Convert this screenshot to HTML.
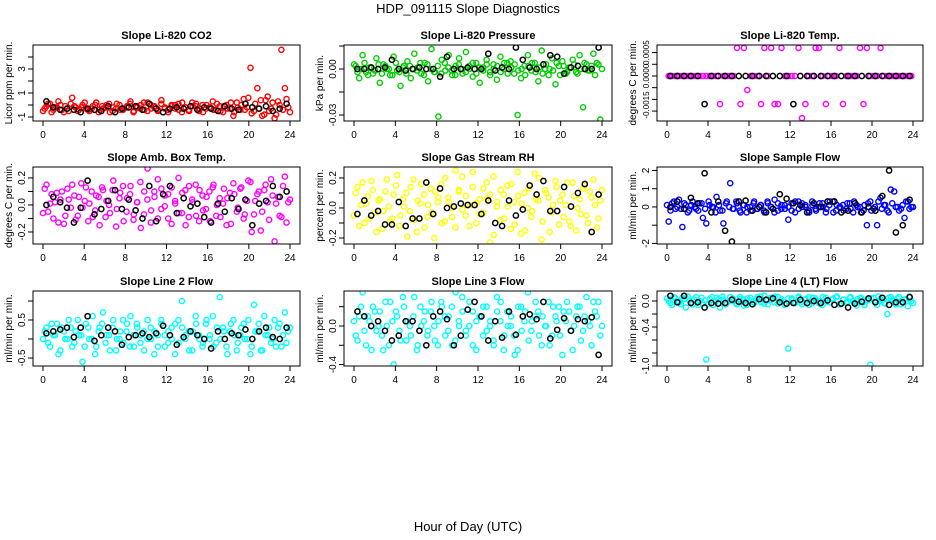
<!DOCTYPE html>
<html><head><meta charset="utf-8"><style>
html,body{margin:0;padding:0;background:#fff;}
svg{display:block;font-family:"Liberation Sans",sans-serif;}
</style></head><body>
<svg id="c" width="936" height="540" viewBox="0 0 936 540">
<text x="468" y="13" text-anchor="middle" font-size="13">HDP_091115  Slope Diagnostics</text>
<text x="468" y="531" text-anchor="middle" font-size="13">Hour of Day (UTC)</text>
</svg>
<script>
const xTicks = [0,4,8,12,16,20,24];
const titles = ["Slope Li-820 CO2","Slope Li-820 Pressure","Slope Li-820 Temp.","Slope Amb. Box Temp.","Slope Gas Stream RH","Slope Sample Flow","Slope Line 2 Flow","Slope Line 3 Flow","Slope Line 4 (LT) Flow"];
const yLabels = ["Licor ppm per min.","kPa per min.","degrees C per min.","degrees C per min.","percent per min.","ml/min per min.","ml/min per min.","ml/min per min.","ml/min per min."];
const colors = ["#ff0000","#00cd00","#ff00ff","#ff00ff","#ffff00","#0000ff","#00ffff","#00ffff","#00ffff"];
const yDomains = [[-1.333,5.0],[-0.0339,0.01565],[-0.000962,0.000662],[-0.289,0.281],[-0.24,0.273],[-2.03,2.19],[-0.71,1.263],[-0.415,0.363],[-1.0,0.154]];
const yTicks = [[-1,0,1,2,3,4],[-0.03,-0.015,0,0.015],[-0.00075,-0.0005,-0.00025,0,0.00025,0.0005],[-0.2,-0.1,0,0.1,0.2],[-0.2,-0.1,0,0.1,0.2],[-2,-1,0,1,2],[-0.5,0,0.5,1.0],[-0.4,-0.2,0,0.2],[-1.0,-0.8,-0.6,-0.4,-0.2,0]];
const yTickLabelVals = [[-1,1,3],[-0.03,0],[-0.00062,0,0.0005],[-0.2,0,0.2],[-0.2,0,0.2],[-2,0,1,2],[-0.5,0.5],[-0.4,0],[-1.0,-0.4,0]];
const yTickLabelText = [["-1","1","3"],["-0.03","0.00"],["-0.0015","0.0000","0.0005"],["-0.2","0.0","0.2"],["-0.2","0.0","0.2"],["-2","0","1","2"],["-0.5","0.5"],["-0.4","0.0"],["-1.0","-0.4","0.0"]];

const colA = [-0.3,0.1,-0.6,-0.2,0.3,-0.4,-0.1,-0.5,0.6,-0.2,-0.4,0.0,-0.3,-0.5,-0.1,0.2,-0.4,-0.3,0.0,-0.6,-0.2,0.1,-0.4,-0.3,-0.1,0.3,-0.5,-0.2,0.0,-0.4,0.2,-0.3,-0.1,-0.5,0.4,-0.2,-0.4,0.0,-0.3,0.1,-0.6,-0.2,-0.4,0.2,-0.1,-0.5,0.0,-0.3,-0.2,0.3,-0.4,-0.1,-0.6,0.0,-0.3,-0.9,0.2,-0.4,0.5,-0.2,3.1,-0.5,1.4,0.4,-0.8,0.7,-0.3,-1.1,0.3,4.6,1.4,-0.2];
const colA2 = [-0.5,-0.1,0.1,-0.4,-0.2,0.0,-0.6,-0.3,0.1,-0.1,-0.5,-0.2,0.2,-0.4,-0.3,0.0,-0.6,-0.1,-0.2,0.1,-0.5,-0.3,0.0,-0.4,-0.2,0.1,-0.6,-0.1,-0.3,0.2,-0.5,0.0,-0.2,-0.4,0.1,-0.3,-0.6,-0.1,0.0,-0.4,0.2,-0.2,-0.5,-0.1,0.1,-0.3,-0.6,0.0,-0.2,-0.4,0.1,-0.5,-0.1,-0.3,0.2,-0.6,-0.2,0.0,-0.4,0.6,-0.7,0.1,-0.3,-0.9,0.4,-0.5,0.2,-0.8,0.0,-0.4,0.5,-0.6];
const blkA = [0.3,-0.2,-0.4,-0.3,-0.4,-0.6,-0.3,-0.4,-0.5,-0.1,-0.6,-0.3,-0.2,-0.1,-0.4,0.1,-0.3,-0.6,-0.3,-0.2,-0.3,-0.1,-0.4,-0.2,-0.3,-0.5,-0.1,-0.3,-0.4,0.1,-0.2,-0.3,-0.1,-0.5,-0.3,0.1];
const colB = [0.002,-0.006,0.009,-0.002,0.001,-0.003,0.007,-0.009,0.003,0.000,-0.004,0.008,-0.001,-0.011,0.002,0.005,-0.006,0.010,0.001,-0.003,0.004,-0.008,0.013,-0.002,-0.031,0.006,-0.001,0.009,-0.004,0.002,0.007,-0.003,0.011,0.000,-0.005,0.004,-0.009,0.001,0.006,-0.002,0.003,-0.007,0.008,0.000,0.004,0.005,-0.003,-0.030,-0.006,0.002,0.009,-0.001,0.004,-0.008,0.012,0.000,-0.004,0.007,-0.010,0.002,0.005,-0.003,0.001,0.006,-0.002,0.009,-0.025,0.003,-0.001,0.010,0.004,-0.033];
const colB2 = [0.003,-0.002,0.000,0.004,-0.004,0.001,-0.001,0.003,-0.003,0.002,0.000,-0.004,0.004,-0.002,0.001,-0.003,0.002,0.000,-0.001,0.004,-0.004,0.003,0.000,-0.002,0.002,-0.003,0.004,0.001,-0.001,-0.004,0.003,0.000,-0.002,0.002,0.004,-0.003,0.001,-0.001,0.003,-0.004,0.000,0.002,-0.002,0.004,-0.003,0.001,0.003,-0.001,0.000,-0.004,0.002,0.004,-0.002,0.001,-0.003,0.003,0.000,-0.001,0.004,-0.004,0.002,-0.002,0.001,0.003,-0.003,0.000,0.004,-0.001,0.002,-0.004,0.003,0.000];
const blkB = [0.000,0.000,0.001,0.000,0.001,0.006,0.000,-0.001,0.000,0.001,0.000,0.000,-0.005,0.008,0.000,0.000,0.001,0.000,0.000,0.010,-0.001,0.001,0.000,0.014,0.006,0.001,0.000,0.003,0.009,0.008,-0.003,0.001,0.002,0.000,0.000,0.014];
const colC = [0,0,0,0,0,0,0,0,0,0,0,0,0,0,0,-0.0006,0,0,0,0,0.0006,-0.0006,0.0006,-0.0003,0,0,0,-0.0006,0.0006,0,0.0006,-0.0006,-0.0006,0.0006,0,0,0,0,0.0006,-0.0009,-0.0006,0,0,0.0006,0.0006,0,-0.0006,0,0,0,0.0006,-0.0006,0,0,0,0,0.0006,-0.0006,0.0006,0,0,0,0.0006,0,0,0,0,0,0,0,0,0];
const colC2 = [];
const blkC = [0,0,0,0,0,-0.0006,0,0,0,0,0,0,0,0,0,0,0,0,-0.0006,0,0,0,0,0,0,0,0,0,0,0,0,0,0,0,0,0];
const colD = [0.12,-0.05,0.08,0.02,-0.13,0.10,-0.08,0.04,0.15,-0.11,0.06,-0.02,0.13,0.01,-0.09,0.07,-0.15,0.11,0.03,-0.06,0.18,-0.03,0.09,-0.12,0.05,0.14,-0.07,0.02,-0.17,0.10,0.27,-0.04,0.06,-0.10,0.12,-0.01,0.08,-0.14,0.03,0.20,-0.06,0.11,-0.09,0.04,0.15,-0.12,0.07,-0.03,0.10,0.13,-0.08,0.05,0.01,-0.15,0.09,0.16,-0.05,0.12,-0.10,0.03,0.17,-0.07,0.08,-0.19,0.11,0.02,0.19,-0.27,0.06,-0.09,0.21,0.02];
const colD2 = [-0.06,0.15,0.01,-0.10,0.09,0.04,-0.14,0.12,-0.02,0.07,-0.08,0.16,0.03,-0.12,0.10,-0.04,0.06,0.13,-0.09,0.00,0.11,-0.16,0.05,0.14,-0.05,0.08,-0.11,0.02,0.17,-0.07,0.04,-0.13,0.10,0.19,-0.03,0.07,-0.10,0.13,0.01,-0.06,0.09,-0.15,0.14,0.02,-0.08,0.11,-0.04,0.06,-0.12,0.15,0.00,-0.09,0.12,0.05,-0.14,0.08,-0.02,0.13,-0.07,0.18,-0.20,0.03,0.10,-0.05,0.15,-0.11,0.07,0.01,-0.08,0.14,-0.13,0.04];
const blkD = [0.00,0.06,0.02,-0.02,-0.13,-0.02,0.18,-0.07,-0.03,0.03,0.11,-0.03,0.04,-0.04,-0.10,0.14,-0.12,0.08,0.14,-0.06,0.05,-0.01,0.01,-0.09,-0.13,0.01,-0.05,0.05,-0.03,0.04,-0.15,0.01,0.03,0.14,0.06,0.10];
const colE = [0.10,-0.12,0.17,0.03,-0.07,0.12,-0.16,0.06,-0.02,0.19,-0.09,0.09,0.22,-0.05,0.01,-0.19,0.14,-0.08,0.05,0.16,-0.13,0.02,-0.03,0.11,0.07,-0.10,0.20,0.04,-0.06,0.25,0.12,-0.01,0.08,-0.12,0.24,0.03,-0.04,0.13,0.06,-0.23,0.21,0.01,-0.08,0.09,0.15,-0.14,0.04,0.24,-0.17,0.10,0.00,-0.06,0.23,0.05,-0.21,0.12,0.07,-0.03,0.18,-0.11,0.09,0.02,-0.09,0.17,-0.15,0.06,0.13,-0.05,0.11,0.19,-0.13,0.05];
const colE2 = [-0.05,0.14,0.02,-0.10,0.08,0.18,-0.03,0.05,-0.14,0.11,0.01,-0.07,0.15,-0.12,0.06,0.10,-0.02,0.19,-0.16,0.03,0.09,-0.06,0.13,-0.20,0.04,0.16,-0.09,0.07,0.00,-0.13,0.11,0.21,-0.05,0.02,0.14,-0.10,0.06,-0.03,0.17,0.09,-0.18,0.04,0.12,-0.07,0.01,0.16,-0.11,0.08,0.03,-0.15,0.13,-0.02,0.06,0.20,-0.09,0.10,-0.16,0.02,0.14,0.05,-0.06,0.17,-0.12,0.08,0.00,-0.04,0.15,-0.10,0.07,0.02,-0.07,0.12];
const blkE = [-0.04,0.05,-0.05,-0.02,-0.11,-0.11,0.04,-0.12,-0.07,-0.07,0.17,-0.04,0.13,0.00,0.01,0.03,0.02,0.02,-0.04,0.05,-0.10,-0.12,0.05,-0.05,-0.01,0.15,0.09,0.18,-0.02,-0.02,0.14,0.01,0.10,0.16,-0.16,0.09];
const colF = [-0.8,0.2,-0.1,0.4,-1.1,0.1,-0.2,0.3,-0.1,0.2,-0.6,-0.9,0.1,0.0,0.55,-0.2,-0.9,0.3,1.3,-0.1,0.2,-0.3,0.1,0.0,-0.2,0.3,-0.1,0.1,-0.3,0.2,0.0,0.4,-0.2,0.1,-0.1,-0.7,0.2,-0.3,0.3,0.0,0.1,-0.2,0.3,-0.1,0.0,0.2,-0.3,0.1,0.3,-0.2,0.0,0.1,-0.1,0.2,-0.3,0.1,0.0,-0.2,-1.0,0.3,-0.1,-1.0,0.5,0.1,-0.2,0.95,0.85,0.0,-0.1,-0.6,0.3,0.0];
const colF2 = [0.1,-0.2,0.3,0.0,-0.1,0.2,-0.3,0.1,0.0,-0.2,0.2,-0.1,0.3,0.0,-0.3,0.1,-0.2,0.2,0.0,-0.1,0.3,-0.2,0.1,-0.3,0.0,0.2,-0.1,0.1,-0.2,0.3,0.0,-0.3,0.2,-0.1,0.1,0.0,-0.2,0.3,-0.1,0.2,0.0,-0.3,0.1,-0.2,0.2,0.0,-0.1,0.3,-0.3,0.1,0.0,-0.2,0.2,-0.1,0.3,0.0,-0.3,0.1,0.2,-0.2,0.0,0.3,-0.1,0.1,-0.3,0.2,0.0,-0.2,0.1,0.3,-0.1,0.0];
const blkF = [0.0,0.3,-0.1,0.5,0.2,1.85,-0.3,0.3,-1.3,-1.9,0.3,0.35,-0.2,0.0,-0.3,-0.1,0.7,0.45,0.2,0.1,-0.3,0.2,0.0,0.3,0.3,-0.3,-0.2,0.2,-0.3,0.0,-0.2,0.6,2.0,-1.4,-1.0,0.4];
const colG = [0.2,-0.1,0.4,0.1,-0.4,0.3,0.0,0.5,-0.2,0.2,0.1,-0.6,0.4,0.0,0.6,-0.2,0.3,0.7,0.1,-0.3,0.5,0.0,0.2,-0.1,0.4,0.6,-0.2,0.3,0.1,-0.3,0.5,0.0,0.2,-0.2,0.4,0.1,-0.1,0.3,-0.4,0.5,1.0,0.0,0.2,-0.3,0.6,0.1,-0.2,0.4,0.0,0.6,-0.1,1.1,0.3,-0.2,0.2,0.5,-0.3,0.1,0.4,0.0,-0.4,0.9,0.2,-0.3,0.6,0.1,-0.1,0.5,0.3,-0.2,0.7,0.2];
const colG2 = [0.0,0.3,-0.2,0.1,0.4,-0.3,0.2,0.0,0.3,-0.1,0.5,0.1,-0.2,0.3,0.0,-0.4,0.2,0.4,-0.1,0.1,0.3,-0.3,0.0,0.5,0.2,-0.2,0.1,0.4,-0.1,0.2,0.0,0.3,-0.4,0.1,0.5,-0.2,0.2,0.0,0.4,-0.1,0.3,0.1,-0.3,0.2,0.4,0.0,-0.1,0.5,0.1,-0.2,0.3,0.0,0.2,-0.4,0.4,0.1,-0.1,0.3,0.0,0.5,-0.2,0.2,0.4,-0.3,0.1,0.3,0.0,-0.2,0.4,0.1,-0.1,0.3];
const blkG = [0.15,0.2,0.25,0.3,0.05,0.3,0.6,-0.05,0.1,0.3,0.2,-0.15,0.05,0.1,0.15,0.05,0.15,0.35,0.1,-0.15,0.05,0.2,0.1,0.0,-0.25,0.2,0.0,0.15,0.1,0.25,0.0,0.2,0.3,0.05,0.0,0.3];
const colH = [-0.1,0.1,0.35,-0.2,0.05,0.2,-0.05,0.15,-0.25,0.0,0.25,-0.4,0.1,-0.15,0.2,0.05,-0.1,0.3,-0.2,0.0,0.15,-0.05,0.25,-0.15,0.05,0.2,-0.1,0.1,-0.2,0.35,0.0,0.15,-0.05,0.25,-0.2,0.05,0.1,-0.1,0.2,0.0,-0.15,0.3,0.05,-0.25,0.15,0.0,-0.1,-0.25,0.2,0.05,0.35,-0.05,0.1,0.15,-0.2,0.0,0.25,-0.1,0.1,0.2,-0.3,0.05,0.15,-0.25,0.1,0.2,-0.05,0.3,0.0,0.25,0.1,-0.1];
const colH2 = [0.05,-0.15,0.2,-0.05,0.1,-0.25,0.15,0.0,-0.1,0.25,-0.2,0.05,0.15,-0.05,0.3,-0.15,0.0,0.1,-0.25,0.2,0.05,-0.1,0.15,0.0,-0.2,0.25,0.1,-0.05,0.2,-0.15,0.05,0.3,-0.1,0.0,0.15,-0.25,0.1,0.2,-0.05,0.05,-0.2,0.15,0.25,-0.1,0.0,0.1,-0.3,0.2,-0.05,0.15,-0.15,0.05,0.25,-0.1,0.1,0.0,-0.2,0.2,0.05,-0.1,0.15,0.25,-0.05,0.0,0.2,-0.15,0.1,0.05,-0.2,0.15,0.25,0.0];
const blkH = [0.15,0.1,0.0,0.05,-0.05,-0.15,-0.1,0.05,0.05,-0.05,-0.2,0.1,0.15,0.07,-0.2,-0.1,0.17,0.25,0.1,-0.15,0.05,-0.12,0.15,-0.09,0.1,0.12,0.07,0.25,-0.13,-0.04,0.08,-0.05,0.07,0.05,0.09,-0.3];
const colI = [0.0,-0.06,0.04,-0.02,0.05,-0.1,0.02,-0.05,0.06,0.0,-0.04,-0.9,0.03,-0.06,0.05,-0.1,0.02,-0.03,0.06,0.0,-0.05,0.03,-0.07,0.04,0.01,-0.03,0.06,-0.02,0.08,-0.05,0.02,0.07,-0.04,0.03,-0.06,-0.73,0.04,-0.02,0.05,-0.05,0.02,0.06,-0.03,0.04,0.0,-0.06,0.05,-0.02,0.03,0.06,-0.05,0.02,-0.03,0.05,0.0,-0.07,0.04,-0.02,0.02,-0.98,0.05,-0.06,0.03,-0.03,-0.2,0.06,-0.01,0.04,-0.05,0.02,-0.08,0.0];
const colI2 = [0.04,-0.03,0.06,0.0,-0.05,0.03,0.07,-0.02,0.02,-0.06,0.05,0.01,-0.04,0.06,-0.01,0.03,0.07,-0.05,0.0,0.04,-0.03,0.06,0.02,-0.06,0.05,-0.01,0.03,0.07,-0.04,0.01,0.05,-0.02,0.06,0.0,-0.05,0.04,0.02,-0.03,0.07,-0.01,0.03,-0.06,0.05,0.01,-0.04,0.06,0.0,-0.02,0.04,0.07,-0.05,0.02,-0.01,0.06,-0.03,0.03,0.05,-0.06,0.01,0.04,-0.02,0.07,0.0,-0.04,0.05,0.02,-0.05,0.06,-0.01,0.03,0.07,-0.03];
const blkI = [0.08,-0.02,0.08,-0.03,-0.02,-0.1,-0.03,-0.04,-0.03,0.02,-0.01,-0.03,-0.05,0.03,0.02,0.04,-0.02,-0.04,-0.03,0.02,-0.03,0.0,-0.03,0.01,-0.06,-0.04,-0.1,-0.04,-0.01,0.04,-0.02,0.05,-0.06,-0.02,-0.02,0.06];

const colorSeries = [colA,colB,colC,colD,colE,colF,colG,colH,colI];
const colorSeries2 = [colA2,colB2,colC2,colD2,colE2,colF2,colG2,colH2,colI2];
const blackSeries = [blkA,blkB,blkC,blkD,blkE,blkF,blkG,blkH,blkI];

const NS = "http://www.w3.org/2000/svg";
const svg = document.getElementById('c');
const boxL = [33,344,657], boxR = [300,612,923];
const boxT = [45,167,291], boxB = [121,244,366];
function mk(tag, attrs, parent){ const e=document.createElementNS(NS,tag); for(const k in attrs) e.setAttribute(k,attrs[k]); (parent||svg).appendChild(e); return e; }

for(let p=0;p<9;p++){
  const c=p%3, r=Math.floor(p/3);
  const L=boxL[c], R=boxR[c], T=boxT[r], B=boxB[r];
  const g = mk('g',{});
  
  
  const xs = h => (L+10) + h/24*(R-L-20);
  const [d0,d1] = yDomains[p];
  const ys = v => B - (v-d0)/(d1-d0)*(B-T);
  const clip = mk('clipPath',{id:'cp'+p},g);
  mk('rect',{x:L,y:T,width:R-L,height:B-T},clip);
  const pts = mk('g',{'clip-path':'url(#cp'+p+')'},g);
  const cs2 = colorSeries2[p];
  cs2.forEach((v,i)=>{
    const h=i*24/(cs2.length-1);
    const e=mk('circle',{cx:xs(h).toFixed(1),cy:ys(v).toFixed(1),r:2.6,fill:'none',stroke:colors[p],'stroke-width':1.4},pts);
    
    
  });
  const cs = colorSeries[p];
  cs.forEach((v,i)=>{
    const h=(i+0.5)*24/cs.length;
    const e=mk('circle',{cx:xs(h).toFixed(1),cy:ys(v).toFixed(1),r:2.6,fill:'none',stroke:colors[p],'stroke-width':1.4},pts);
    
    
  });
  const bs = blackSeries[p];
  bs.forEach((v,i)=>{
    const h=(i+0.5)*24/bs.length;
    const e=mk('circle',{cx:xs(h).toFixed(1),cy:ys(v).toFixed(1),r:2.6,fill:'none',stroke:'#000','stroke-width':1.5},pts);
    
    
  });
  const box = mk('rect',{x:L,y:T,width:R-L,height:B-T,fill:'none',stroke:'#000','stroke-width':1},g);
  
  
  const t = mk('text',{x:(L+R)/2,y:T-6,'text-anchor':'middle','font-size':11,'font-weight':'bold'},g);
  t.textContent = titles[p];
  
  
  mk('line',{x1:xs(0),x2:xs(24),y1:B,y2:B,stroke:'#000'},g);
  xTicks.forEach(h=>{
    mk('line',{x1:xs(h),x2:xs(h),y1:B,y2:B+5,stroke:'#000'},g);
    const tl=mk('text',{x:xs(h),y:B+17,'text-anchor':'middle','font-size':10},g);
    tl.textContent=h;
    
    
  });
  const yt=yTicks[p];
  mk('line',{x1:L,x2:L,y1:ys(Math.min(...yt)),y2:ys(Math.max(...yt)),stroke:'#000'},g);
  yt.forEach(v=>{ mk('line',{x1:L-5,x2:L,y1:ys(v),y2:ys(v),stroke:'#000'},g); });
  const fs = (p===2) ? 8 : 10;
  yTickLabelVals[p].forEach((v,i)=>{
    const y=ys(v), x=L-8;
    const tl=mk('text',{x:x,y:y,'text-anchor':'middle','font-size':fs,transform:`rotate(-90 ${x} ${y})`},g);
    tl.textContent=yTickLabelText[p][i];
    
    
  });
  const ya=mk('text',{x:L-21,y:(T+B)/2,'text-anchor':'middle','font-size':10,transform:`rotate(-90 ${L-21} ${(T+B)/2})`},g);
  ya.textContent=yLabels[p];
  
  
}
</script>
</body></html>
